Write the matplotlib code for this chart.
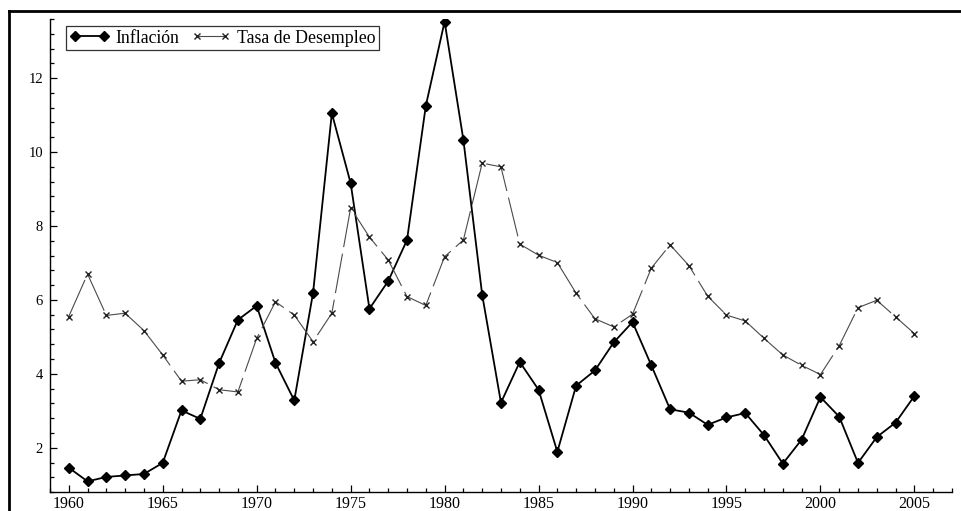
import numpy as np
import matplotlib
matplotlib.use("Agg")
import matplotlib.pyplot as plt
from matplotlib.lines import Line2D
from matplotlib.ticker import MultipleLocator

plt.rcParams['font.family'] = ['Liberation Serif', 'DejaVu Serif']

# annual series 1960-2005
years = np.arange(1960, 2006)
inflacion = [1.46, 1.09, 1.21, 1.25, 1.29, 1.59, 3.01, 2.78, 4.29, 5.46,
             5.84, 4.30, 3.28, 6.19, 11.05, 9.16, 5.76, 6.51, 7.62, 11.25,
             13.53, 10.33, 6.14, 3.22, 4.32, 3.57, 1.89, 3.68, 4.09, 4.85,
             5.40, 4.23, 3.04, 2.95, 2.62, 2.82, 2.94, 2.34, 1.57, 2.22,
             3.37, 2.84, 1.59, 2.29, 2.68, 3.40]
desempleo = [5.55, 6.70, 5.58, 5.64, 5.17, 4.51, 3.80, 3.84, 3.57, 3.51,
             4.96, 5.95, 5.59, 4.87, 5.64, 8.49, 7.70, 7.08, 6.09, 5.85,
             7.17, 7.62, 9.70, 9.60, 7.51, 7.21, 7.01, 6.18, 5.49, 5.27,
             5.61, 6.86, 7.49, 6.93, 6.10, 5.59, 5.43, 4.96, 4.51, 4.23,
             3.98, 4.76, 5.79, 5.99, 5.54, 5.09]

fig = plt.figure(figsize=(9.61, 5.11), dpi=100)
ax = fig.add_axes([0.052, 0.037, 0.9386, 0.9258])

ax.plot(years, inflacion, color='black', lw=1.3, marker='D', ms=5,
        label='Inflación')
ax.plot(years, desempleo, color='#4a4a4a', lw=0.8, ls=(0, (36, 6)),
        marker='x', ms=4, mew=1.0, mec='#222222', label='Tasa de Desempleo')

ax.set_xlim(1959, 2007)
ax.set_ylim(0.8, 13.6)
ax.xaxis.set_major_locator(MultipleLocator(5))
ax.xaxis.set_minor_locator(MultipleLocator(1))
ax.yaxis.set_major_locator(MultipleLocator(2))
ax.yaxis.set_minor_locator(MultipleLocator(0.4))
ax.tick_params(which='both', direction='in', width=0.9)
ax.tick_params(which='major', length=5, pad=5)
ax.tick_params(which='minor', length=3)
ax.tick_params(axis='x', labelsize=11.5, pad=2.5)
ax.tick_params(axis='y', labelsize=10.5)
ax.set_yticks([2, 4, 6, 8, 10, 12])

for s in ['top', 'right']:
    ax.spines[s].set_visible(False)
for s in ['left', 'bottom']:
    ax.spines[s].set_linewidth(1.0)

leg = ax.legend(loc='upper left', bbox_to_anchor=(0.018, 0.985),
                borderaxespad=0, ncol=2, numpoints=2, fontsize=12.8,
                frameon=True, fancybox=False, edgecolor='black',
                borderpad=0.2, handlelength=2.2, handletextpad=0.35,
                columnspacing=0.7)
leg.get_frame().set_linewidth(0.9)

# outer frame lines along the top and left
fig.add_artist(Line2D([8.5 / 961, 1.0], [1 - 10.8 / 511, 1 - 10.8 / 511],
                      transform=fig.transFigure, color='black', lw=2.0))
fig.add_artist(Line2D([8.5 / 961, 8.5 / 961], [0.0, 1 - 10.8 / 511],
                      transform=fig.transFigure, color='black', lw=2.0))

fig.savefig('out.png', dpi=100)
